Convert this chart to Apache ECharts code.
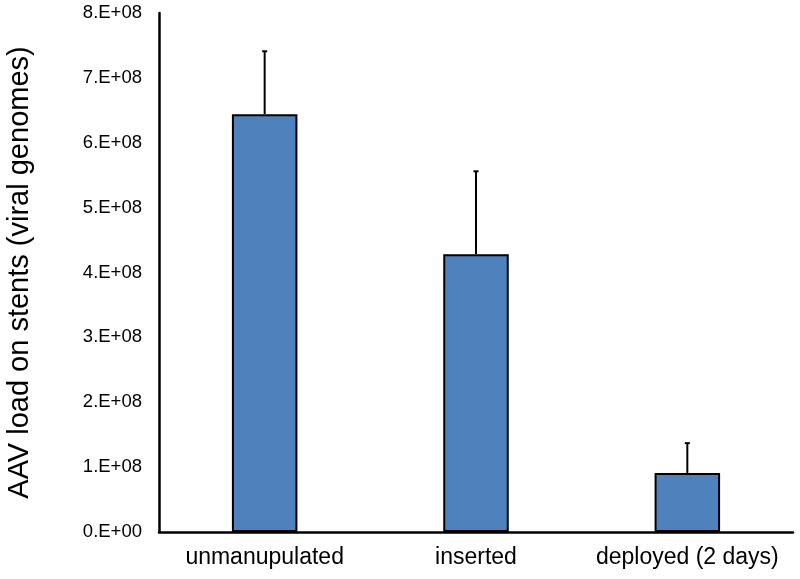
<!DOCTYPE html>
<html><head><meta charset="utf-8">
<script src="https://cdn.jsdelivr.net/npm/echarts@6/dist/echarts.min.js"></script>
<style>html,body{margin:0;padding:0;background:#fff}#c{width:800px;height:579px}</style>
</head><body><div id="c"></div>
<script>
const categories = ['unmanupulated', 'inserted', 'deployed (2 days)'];
const means = [6.44e8, 4.28e8, 0.91e8];
const errUpper = [7.41e8, 5.56e8, 1.37e8];
const yTicks = ['0.E+00','1.E+08','2.E+08','3.E+08','4.E+08','5.E+08','6.E+08','7.E+08','8.E+08'];

const chart = echarts.init(document.getElementById('c'));
const F = 'Liberation Sans, Arial, sans-serif';
chart.setOption({
  animation: false,
  grid: { left: 159, right: 7, top: 13, bottom: 47, containLabel: false, outerBoundsMode: 'none' },
  xAxis: {
    type: 'category', data: categories,
    axisLine: { lineStyle: { color: '#000', width: 2.5 } },
    axisTick: { show: false },
    axisLabel: { color: '#000', fontSize: 23, fontFamily: F, margin: 14, interval: 0, hideOverlap: false }
  },
  yAxis: {
    type: 'value', min: 0, max: 8e8, interval: 1e8,
    name: 'AAV load on stents (viral genomes)', nameLocation: 'middle', nameGap: 125,
    nameTextStyle: { color: '#000', fontSize: 29, fontFamily: F },
    axisLine: { show: true, lineStyle: { color: '#000', width: 2.5 } },
    axisTick: { show: false },
    splitLine: { show: false },
    axisLabel: { color: '#000', fontSize: 18.5, fontFamily: F, margin: 17,
      formatter: (v) => yTicks[Math.round(v / 1e8)] }
  },
  series: [
    {
      type: 'bar', data: means, barWidth: '31%',
      itemStyle: { color: '#4f81bd', borderColor: '#000', borderWidth: 2 }, z: 2
    },
    {
      type: 'custom', z: 1,
      data: categories.map((c, i) => [i, means[i], errUpper[i]]),
      renderItem: (params, api) => {
        const b = api.coord([api.value(0), api.value(1)]);
        const t = api.coord([api.value(0), api.value(2)]);
        return { type: 'group', children: [
          { type: 'line', shape: { x1: b[0], y1: b[1], x2: t[0], y2: t[1] }, style: { stroke: '#000', lineWidth: 2 } },
          { type: 'line', shape: { x1: t[0] - 2.5, y1: t[1], x2: t[0] + 2.5, y2: t[1] }, style: { stroke: '#000', lineWidth: 2 } }
        ]};
      }
    }
  ]
});
</script></body></html>
